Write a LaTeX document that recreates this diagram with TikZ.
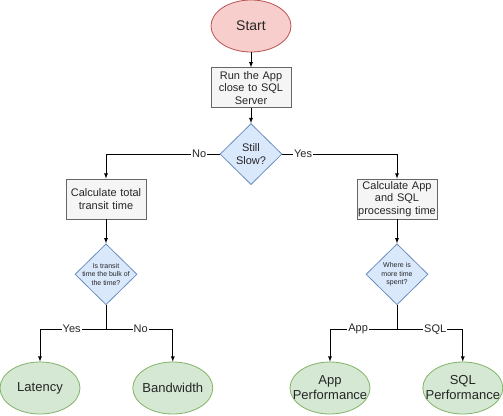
\documentclass[tikz,border=0pt]{standalone}
\usepackage{fontspec}
\setmainfont{Liberation Sans}
\usetikzlibrary{arrows,shapes,positioning}
\definecolor{startfill}{HTML}{F8CECC}
\definecolor{startline}{HTML}{B85450}
\definecolor{stepfill}{HTML}{F5F5F5}
\definecolor{stepline}{HTML}{666666}
\definecolor{decfill}{HTML}{DAE8FC}
\definecolor{decline}{HTML}{6C8EBF}
\definecolor{endfill}{HTML}{D5E8D4}
\definecolor{endline}{HTML}{82B366}
\tikzset{
  basic/.style     = {draw, line width=0.8pt, text=black!85, align=center, inner sep=0pt},
  startnode/.style = {basic, ellipse, fill=startfill, draw=startline, minimum width=80pt, minimum height=52pt, font=\fontsize{14}{16}\selectfont},
  stepbox/.style   = {basic, rectangle, fill=stepfill, draw=stepline, minimum width=80pt, minimum height=40pt, text width=78pt, font=\fontsize{11}{12.5}\selectfont},
  decision/.style  = {basic, diamond, fill=decfill, draw=decline, minimum width=62pt, minimum height=61pt},
  endnode/.style   = {basic, ellipse, fill=endfill, draw=endline, minimum width=80pt, minimum height=52pt},
  inner text/.style = {align=center, text=black!85, inner sep=0pt},
  big text/.style  = {inner text, font=\fontsize{11}{12.5}\selectfont},
  small text/.style = {inner text, font=\fontsize{7}{8.5}\selectfont},
  end text/.style  = {inner text, font=\fontsize{13}{15}\selectfont},
  lbl/.style       = {fill=white, inner sep=1pt, text=black!85, font=\fontsize{11}{12}\selectfont}
}
\begin{document}
\begin{tikzpicture}[x=1pt, y=1pt, >=latex, line width=0.8pt]
\useasboundingbox (0,0) rectangle (503,-415);

% main column
\node[startnode] (start) at (251,-26) {Start};
\node[stepbox, below=15pt of start] (run) {Run the App\\close to SQL\\Server};
\node[decision, below=15pt of run, label={[big text]center:Still\\Slow?}] (slow) {};

% left branch
\node[stepbox] (transit) at (106,-199) {Calculate total\\transit time};
\node[decision, below=24pt of transit, label={[small text]center:Is transit\\time the bulk of\\the time?}] (bulk) {};
\coordinate[below=24pt of bulk.south] (j1);
\node[endnode, label={[end text]center:Latency}] (latency) at (40,-388) {};
\node[endnode, right=52pt of latency, label={[end text]center:Bandwidth}] (bandwidth) {};

% right branch
\node[stepbox] (proc) at (397,-199) {Calculate App\\and SQL\\processing time};
\node[decision, below=24pt of proc, label={[small text]center:Where is\\more time\\spent?}] (where) {};
\coordinate[below=24pt of where.south] (j2);
\node[endnode, label={[end text]center:App\\Performance}] (app) at (330,-388) {};
\node[endnode, right=52pt of app, label={[end text]center:SQL\\Performance}] (sql) {};

% connectors
\draw[->] (start) -- (run);
\draw[->] (run) -- (slow);
\draw[->] (slow.west) -| node[lbl, pos=0.09] {No} (transit.north);
\draw[->] (slow.east) -| node[lbl, pos=0.09] {Yes} (proc.north);
\draw[->] (transit) -- (bulk);
\draw[->] (proc) -- (where);
\draw (bulk.south) -- (j1);
\draw[->] (j1) -| node[lbl, pos=0.26] {Yes} (latency.north);
\draw[->] (j1) -| node[lbl, pos=0.26] {No} (bandwidth.north);
\draw (where.south) -- (j2);
\draw[->] (j2) -| node[lbl, pos=0.29] {App} (app.north);
\draw[->] (j2) -| node[lbl, pos=0.29] {SQL} (sql.north);
\end{tikzpicture}
\end{document}
